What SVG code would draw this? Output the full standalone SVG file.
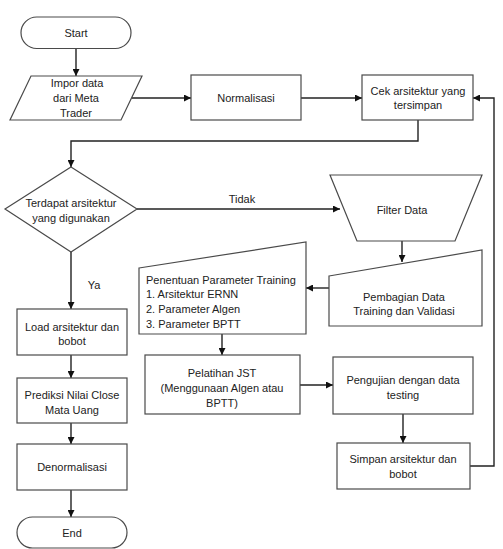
<svg xmlns="http://www.w3.org/2000/svg" width="503" height="549" viewBox="0 0 503 549">
<style>
.s{fill:#fff;stroke:#4a4a4a;stroke-width:1.2}
.t{font-family:"Liberation Sans",Arial,sans-serif;font-size:11px;fill:#222;text-anchor:middle}
.l{text-anchor:start}
.c{fill:none;stroke:#222;stroke-width:1.4}
</style>
<defs>
<marker id="a" viewBox="0 0 10 10" refX="10" refY="5" markerWidth="7" markerHeight="7" orient="auto" markerUnits="userSpaceOnUse">
<path d="M0,0L10,5L0,10z" fill="#111"/>
</marker>
</defs>
<rect width="503" height="549" fill="#fff"/>
<g id="connectors">
<path class="c" d="M76,49V76" marker-end="url(#a)"/>
<path class="c" d="M132,98H191" marker-end="url(#a)"/>
<path class="c" d="M301,98H362" marker-end="url(#a)"/>
<path class="c" d="M418,120V141H71V167" marker-end="url(#a)"/>
<path class="c" d="M137,209H340" marker-end="url(#a)"/>
<path class="c" d="M71,252V309" marker-end="url(#a)"/>
<path class="c" d="M402,241V262" marker-end="url(#a)"/>
<path class="c" d="M329,288H306" marker-end="url(#a)"/>
<path class="c" d="M222,334V355" marker-end="url(#a)"/>
<path class="c" d="M300,385H333" marker-end="url(#a)"/>
<path class="c" d="M403,414V443" marker-end="url(#a)"/>
<path class="c" d="M470,466H494V98H473" marker-end="url(#a)"/>
<path class="c" d="M71,355V378" marker-end="url(#a)"/>
<path class="c" d="M71,423V444" marker-end="url(#a)"/>
<path class="c" d="M71,490V517" marker-end="url(#a)"/>
<text class="t" x="242" y="203">Tidak</text>
<text class="t" x="94" y="289">Ya</text>
</g>
<g id="start">
<rect class="s" x="21" y="17" width="110" height="31.5" rx="15.75"/>
<text class="t" x="76" y="37">Start</text>
</g>
<g id="impor">
<path class="s" d="M31,76H142L121,120H10Z"/>
<text class="t" x="77" y="87">Impor data</text>
<text class="t" x="76" y="102">dari Meta</text>
<text class="t" x="76" y="117">Trader</text>
</g>
<g id="normalisasi">
<rect class="s" x="191" y="75" width="110" height="45"/>
<text class="t" x="246" y="101.5">Normalisasi</text>
</g>
<g id="cek">
<rect class="s" x="362" y="75" width="111" height="45"/>
<text class="t" x="418" y="94.5">Cek arsitektur yang</text>
<text class="t" x="418" y="108.5">tersimpan</text>
</g>
<g id="terdapat">
<path class="s" d="M71,167L137,209L71,252L5,209Z"/>
<text class="t" x="71" y="207">Terdapat arsitektur</text>
<text class="t" x="71" y="222">yang digunakan</text>
</g>
<g id="filter">
<path class="s" d="M330,175H482L455,241H357Z"/>
<text class="t" x="402" y="213.5">Filter Data</text>
</g>
<g id="pembagian">
<path class="s" d="M329,276L482,250V326H329Z"/>
<text class="t" x="404" y="300.5">Pembagian Data</text>
<text class="t" x="404" y="314.5">Training dan Validasi</text>
</g>
<g id="penentuan">
<path class="s" d="M139,268L306,242V334H139Z"/>
<text class="t l" x="146" y="283.5">Penentuan Parameter Training</text>
<text class="t l" x="146" y="298">1. Arsitektur ERNN</text>
<text class="t l" x="146" y="313">2. Parameter Algen</text>
<text class="t l" x="146" y="328">3. Parameter BPTT</text>
</g>
<g id="pelatihan">
<rect class="s" x="145" y="355" width="155" height="59"/>
<text class="t" x="222" y="376.5">Pelatihan JST</text>
<text class="t" x="222" y="391.5">(Menggunaan Algen atau</text>
<text class="t" x="222" y="406.5">BPTT)</text>
</g>
<g id="pengujian">
<rect class="s" x="333" y="357" width="140" height="57"/>
<text class="t" x="403" y="383.5">Pengujian dengan data</text>
<text class="t" x="403" y="398.5">testing</text>
</g>
<g id="simpan">
<rect class="s" x="337" y="443" width="133" height="46"/>
<text class="t" x="403" y="462.5">Simpan arsitektur dan</text>
<text class="t" x="403" y="477.5">bobot</text>
</g>
<g id="load">
<rect class="s" x="17" y="309" width="110" height="46"/>
<text class="t" x="72" y="330.5">Load arsitektur dan</text>
<text class="t" x="72" y="344.5">bobot</text>
</g>
<g id="prediksi">
<rect class="s" x="17" y="378" width="110" height="45"/>
<text class="t" x="72" y="398.5">Prediksi Nilai Close</text>
<text class="t" x="72" y="413.5">Mata Uang</text>
</g>
<g id="denormalisasi">
<rect class="s" x="17" y="444" width="110" height="46"/>
<text class="t" x="72" y="471">Denormalisasi</text>
</g>
<g id="end">
<rect class="s" x="17" y="517" width="110" height="31" rx="15.5"/>
<text class="t" x="72" y="536.5">End</text>
</g>
</svg>
